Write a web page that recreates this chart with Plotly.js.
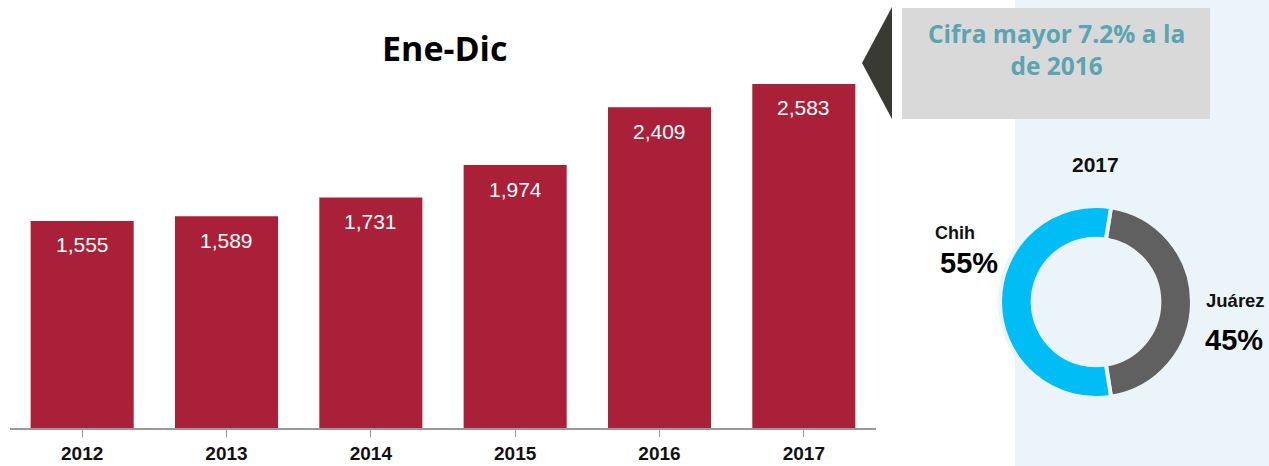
<!DOCTYPE html>
<html><head><meta charset="utf-8">
<script src="https://cdn.plot.ly/plotly-3.0.1.min.js"></script>
<style>html,body{margin:0;padding:0;background:#fff}#chart{width:1269px;height:466px}</style>
</head><body><div id="chart"></div>
<script>
const years = ['2012','2013','2014','2015','2016','2017'];
const values = [1555, 1589, 1731, 1974, 2409, 2583];
const valueLabels = ['1,555','1,589','1,731','1,974','2,409','2,583'];
const donutLabels = ['Juárez','Chih'];
const donutValues = [45, 55];
const donutText = ['45%','55%'];

const W = 1269, H = 466;
const px = x => x / W;
const py = y => 1 - y / H;
const SANS = 'Liberation Sans, Arial, sans-serif';

const bar = {
  type: 'bar', x: years, y: values,
  marker: {color: '#AA2038'},
  hoverinfo: 'skip', xaxis: 'x', yaxis: 'y'
};
const pie = {
  type: 'pie', labels: donutLabels, values: donutValues,
  hole: 0.66, sort: false, direction: 'clockwise', rotation: 9,
  marker: {colors: ['#606060', '#00BDF5'], line: {color: '#EBF4F8', width: 4}},
  textinfo: 'none', hoverinfo: 'skip', showlegend: false,
  domain: {x: [px(1000), px(1192)], y: [py(398), py(206)]}
};

function note(x, y, text, size, color, family) {
  return {xref:'paper', yref:'paper', x: px(x), y: py(y), xanchor:'center', yanchor:'middle',
          text, showarrow:false, align:'center', font:{family: family || SANS, size, color}};
}

const annotations = years.map((yr, i) => ({
  x: yr, y: values[i], xref: 'x', yref: 'y', text: valueLabels[i],
  showarrow: false, yshift: -24, xanchor: 'center', yanchor: 'middle',
  font: {family: SANS, size: 21, color: '#ffffff'}
}));
annotations.push(
  note(444, 48, '<b>Ene-Dic</b>', 34, '#000', 'Open Sans, sans-serif'),
  note(1056, 50, '<b>Cifra mayor 7.2% a la<br>de 2016</b>', 24.5, '#5BA4B2', 'Open Sans, sans-serif'),
  note(1095, 164, '<b>2017</b>', 21, '#111'),
  note(955, 233, '<b>' + donutLabels[1] + '</b>', 18, '#111'),
  note(969, 263, '<b>' + donutText[1] + '</b>', 29, '#000'),
  note(1235, 300, '<b>' + donutLabels[0] + '</b>', 18.5, '#111'),
  note(1234, 340, '<b>' + donutText[0] + '</b>', 29, '#000')
);

const shapes = [
  {type:'rect', xref:'paper', yref:'paper', x0: px(1015), x1: 1, y0: 0, y1: 1,
   fillcolor:'#EBF4F8', line:{width:0}, layer:'below'},
  {type:'rect', xref:'paper', yref:'paper', x0: px(902), x1: px(1210), y0: py(119), y1: py(8),
   fillcolor:'#D9D9D9', line:{width:0}, layer:'below'},
  {type:'path', xref:'paper', yref:'paper',
   path: `M ${px(862)} ${py(63)} L ${px(892)} ${py(7)} L ${px(892)} ${py(119)} Z`,
   fillcolor:'#3A3A35', line:{width:0}, layer:'below'}
];

const layout = {
  width: W, height: H,
  margin: {l:0, r:0, t:0, b:0},
  paper_bgcolor: '#ffffff', plot_bgcolor: 'rgba(0,0,0,0)',
  showlegend: false, bargap: 0.286,
  xaxis: {domain: [px(10), px(876)], tickson: 'boundaries', ticks: 'outside', ticklen: 7,
          tickcolor: '#999', showline: true, linecolor: '#999', linewidth: 1.5,
          ticklabelstandoff: 1,
          tickfont: {family: SANS, size: 19, color: '#111', weight: 'bold'},
          fixedrange: true},
  yaxis: {domain: [py(428), py(60)], range: [0, 2763], visible: false, showgrid: false, zeroline: false, fixedrange: true},
  annotations, shapes
};
Plotly.newPlot('chart', [bar, pie], layout, {displayModeBar: false, staticPlot: true});
</script></body></html>
